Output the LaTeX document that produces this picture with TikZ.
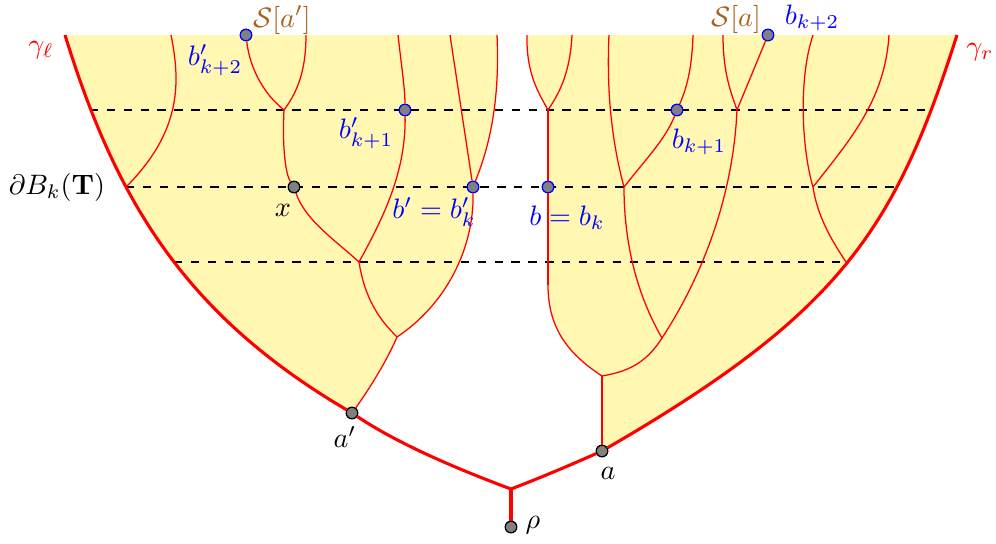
\documentclass[tikz,border=0pt]{standalone}
\usepackage{amsmath}
\usepackage{amssymb}
\usepackage{tikz}
\usetikzlibrary{positioning}
\definecolor{regionyellow}{RGB}{255,247,178}
\definecolor{labelbrown}{RGB}{168,98,28}

\begin{document}
\begin{tikzpicture}[
  x=0.125mm, y=-0.125mm,
  branch/.style={red, line width=0.45pt},
  spine/.style={red, line width=1.1pt},
  levelline/.style={dashed, line width=0.45pt},
  vtx/.style={circle, fill=gray, draw=black, line width=0.45pt, inner sep=0pt, minimum size=1.45mm},
  bvtx/.style={vtx, draw=blue}
]
  \useasboundingbox (0,0) rectangle (996,543);
  % points on the two geodesics
  \coordinate (gl0) at (65,35);  \coordinate (gr0) at (957,35);
  \coordinate (gl1) at (90,110); \coordinate (gr1) at (931,110);
  \coordinate (gl2) at (126,187); \coordinate (gr2) at (897,187);
  \coordinate (gl3) at (174,262); \coordinate (gr3) at (846,262);
  % tops of the branches
  \coordinate (tL1) at (171,35); \coordinate (tL2) at (306,35);
  \coordinate (tL3) at (398,35); \coordinate (tL4) at (450,35);
  \coordinate (tL5) at (497,35);
  \coordinate (tR0) at (527,35); \coordinate (tR1) at (572,35);
  \coordinate (tR2) at (609,35); \coordinate (tR3) at (693,35);
  \coordinate (tR4) at (723,35); \coordinate (tR5) at (813,35);
  \coordinate (tR6) at (889,35);
  % branch points
  \coordinate (jL1) at (284,110); \coordinate (jL2) at (359,262);
  \coordinate (jL3) at (397,337);
  \coordinate (jR1) at (548,110); \coordinate (jR2) at (624,187);
  \coordinate (jR3) at (662,338); \coordinate (jR4) at (602,376);
  \coordinate (jR5) at (737,110); \coordinate (jR6) at (813,187);
  \coordinate (cR) at (548,285);  \coordinate (root) at (511,489);

  % yellow regions
  \fill[regionyellow] (gl0) -- (tL5) .. controls (500,100) and (490,145) .. (473,187)
    .. controls (474,250) and (445,305) .. (jL3)
    .. controls (385,365) and (365,395) .. (352,413)
    .. controls (184,314) and (116,200) .. (gl0) -- cycle;
  \fill[regionyellow] (tR0) -- (gr0) .. controls (895,230) and (840,313) .. (602,451)
    -- (jR4) .. controls (570,355) and (548,330) .. (cR) -- (jR1)
    .. controls (540,95) and (526,75) .. (tR0) -- cycle;

  % levels
  \draw[levelline] (gl1) -- (gr1);
  \draw[levelline] (gl2) -- (gr2);
  \draw[levelline] (gl3) -- (gr3);

  % dots
  \node[bvtx] (bL2) at (246,35) {};
  \node[bvtx] (bL1) at (405,110) {};
  \node[bvtx] (bL0) at (473,187) {};
  \node[bvtx] (bR2) at (768,35) {};
  \node[bvtx] (bR1) at (677,110) {};
  \node[bvtx] (bR0) at (548,187) {};
  \node[vtx] (xpt) at (294,187) {};
  \node[vtx] (ap) at (352,413) {};
  \node[vtx] (a) at (602,451) {};
  \node[vtx] (rho) at (511,527) {};

  % left subtree
  \draw[branch] (tL1) .. controls (180,80) and (183,130) .. (gl2);
  \draw[branch] (bL2) .. controls (250,70) and (265,95) .. (jL1);
  \draw[branch] (tL2) .. controls (306,75) and (295,95) .. (jL1);
  \draw[branch] (jL1) .. controls (282,150) and (286,175) .. (xpt);
  \draw[branch] (xpt) .. controls (305,220) and (335,240) .. (jL2);
  \draw[branch] (tL3) .. controls (402,70) and (405,90) .. (bL1);
  \draw[branch] (bL1) .. controls (406,170) and (385,215) .. (jL2);
  \draw[branch] (jL2) .. controls (365,300) and (380,320) .. (jL3);
  \draw[branch] (tL4) -- (bL0);
  \draw[branch] (tL5) .. controls (500,100) and (490,145) .. (bL0);
  \draw[branch] (bL0) .. controls (474,250) and (445,305) .. (jL3);
  \draw[branch] (jL3) .. controls (385,365) and (365,395) .. (ap);

  % right subtree
  \draw[branch] (tR0) .. controls (526,75) and (540,95) .. (jR1);
  \draw[branch] (tR1) .. controls (570,75) and (558,95) .. (jR1);
  \draw[branch] (jR1) -- (bR0) -- (cR);
  \draw[branch] (cR) .. controls (548,330) and (570,355) .. (jR4);
  \draw[branch] (jR4) -- (a);
  \draw[branch] (tR2) .. controls (606,100) and (614,150) .. (jR2);
  \draw[branch] (tR3) .. controls (692,70) and (686,90) .. (bR1);
  \draw[branch] (bR1) .. controls (665,140) and (645,160) .. (jR2);
  \draw[branch] (jR2) .. controls (624,250) and (640,300) .. (jR3);
  \draw[branch] (jR3) .. controls (645,365) and (625,372) .. (jR4);
  \draw[branch] (tR4) .. controls (723,75) and (732,95) .. (jR5);
  \draw[branch] (bR2) -- (jR5);
  \draw[branch] (jR5) .. controls (733,200) and (700,280) .. (jR3);
  \draw[branch] (tR5) .. controls (798,80) and (802,150) .. (jR6);
  \draw[branch] (tR6) .. controls (885,100) and (850,140) .. (jR6);
  \draw[branch] (jR6) .. controls (818,220) and (835,245) .. (gr3);

  % geodesics and trunk
  \draw[spine] (ap) .. controls (184,314) and (116,200) .. (gl0);
  \draw[spine] (a) .. controls (840,313) and (895,230) .. (gr0);
  \draw[spine] (ap) .. controls (400,445) and (460,470) .. (root);
  \draw[spine] (root) .. controls (540,478) and (575,463) .. (a);
  \draw[spine] (root) -- (rho);

  % labels
  \node[red] (lgl) at (41,50) {$\gamma_\ell$};
  \node[red] (lgr) at (980,52) {$\gamma_r$};
  \node[labelbrown, inner sep=1pt] (lSap) at (282,20) {$\mathcal{S}[a']$};
  \node[labelbrown, inner sep=1pt] (lSa) at (736,19) {$\mathcal{S}[a]$};
  \node[blue] (lbR2) at (812,18) {$b_{k+2}$};
  \node[blue] (lbL2) at (215,60) {$b'_{k+2}$};
  \node[blue] (lbL1) at (366,133) {$b'_{k+1}$};
  \node (lx) at (283,210) {$x$};
  \node[blue] (lbL0) at (434,212) {$b'=b'_k$};
  \node (lbd) at (57,187) {$\partial B_k(\mathbf{T})$};
  \node[blue] (lbR0) at (567,218) {$b=b_k$};
  \node[blue] (lbR1) at (699,142) {$b_{k+1}$};
  \node (lap) at (345,437) {$a'$};
  \node (la) at (608,473) {$a$};
  \node (lrho) at (533,525) {$\rho$};
\end{tikzpicture}
\end{document}
